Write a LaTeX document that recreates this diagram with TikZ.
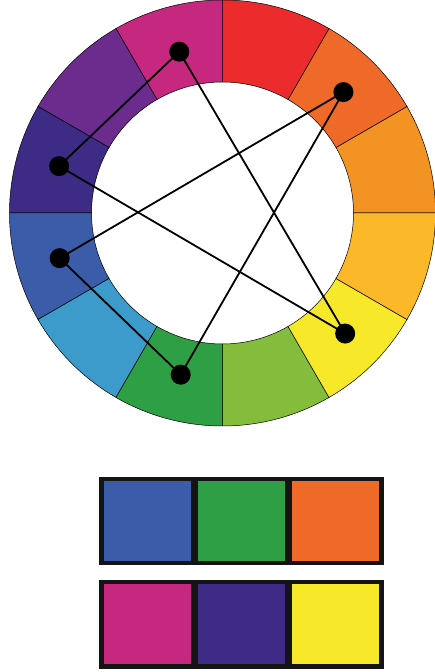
\documentclass[tikz,border=0pt]{standalone}
\usepackage{xcolor}
\usepackage{tikz}
\usetikzlibrary{positioning,fit,backgrounds}
\definecolor{wRed}{HTML}{EC2B2C}
\definecolor{wRedOrange}{HTML}{EF6A29}
\definecolor{wOrange}{HTML}{F39323}
\definecolor{wYellowOrange}{HTML}{FBB828}
\definecolor{wYellow}{HTML}{F7E829}
\definecolor{wYellowGreen}{HTML}{84BD3C}
\definecolor{wGreen}{HTML}{2E9F45}
\definecolor{wBlueGreen}{HTML}{3C9BCA}
\definecolor{wBlue}{HTML}{3B5CA8}
\definecolor{wIndigo}{HTML}{3D2B86}
\definecolor{wPurple}{HTML}{6B2C8E}
\definecolor{wMagenta}{HTML}{C5287E}
\tikzset{
  sector/.style={fill=#1, draw=black, line width=0.5pt},
  hue/.style={circle, fill=black, draw=none, inner sep=0pt, minimum size=20pt},
  link/.style={draw=black, line width=1.8pt},
  swatch/.style={
    rectangle, fill=#1, draw=none, inner sep=0pt,
    minimum width=87pt, minimum height=80pt,
  },
  frame/.style={rectangle, fill=black!92, draw=none, inner sep=4pt},
}
\begin{document}
\begin{tikzpicture}[x=1pt, y=1pt]
\useasboundingbox (0,0) rectangle (435,672);

% ===== Colour wheel =====
\begin{scope}[shift={(222.5,459)}]
  \foreach \a/\c in {0/wOrange, 30/wRedOrange, 60/wRed, 90/wMagenta,
                     120/wPurple, 150/wIndigo, 180/wBlue, 210/wBlueGreen,
                     240/wGreen, 270/wYellowGreen, 300/wYellow, 330/wYellowOrange}
    \path[sector=\c] (\a:213) arc[start angle=\a, delta angle=30, radius=213]
      -- (\a+30:131) arc[start angle=\a+30, delta angle=-30, radius=131] -- cycle;

  \node[hue] (hMagenta)   at (105:167) {};
  \node[hue] (hRedOrange) at (45:171) {};
  \node[hue] (hIndigo)    at (164:170) {};
  \node[hue] (hBlue)      at (195.5:169) {};
  \node[hue] (hGreen)     at (255.5:167) {};
  \node[hue] (hYellow)    at (315.5:172) {};
\end{scope}

\draw[link] (hMagenta.center) -- (hIndigo.center);
\draw[link] (hMagenta.center) -- (hYellow.center);
\draw[link] (hIndigo.center) -- (hYellow.center);
\draw[link] (hRedOrange.center) -- (hBlue.center);
\draw[link] (hRedOrange.center) -- (hGreen.center);
\draw[link] (hBlue.center) -- (hGreen.center);

% ===== Swatches =====
\node[swatch=wBlue] (sBlue) at (147,151) {};
\node[swatch=wGreen, right=7pt of sBlue] (sGreen) {};
\node[swatch=wRedOrange, right=7pt of sGreen] (sOrange) {};

\node[swatch=wMagenta] (sMagenta) at (147,47.5) {};
\node[swatch=wIndigo, right=7pt of sMagenta] (sIndigo) {};
\node[swatch=wYellow, right=7pt of sIndigo] (sYellow) {};

\begin{scope}[on background layer]
  \node[frame, fit=(sBlue)(sOrange)] (triadA) {};
  \node[frame, fit=(sMagenta)(sYellow)] (triadB) {};
\end{scope}

\end{tikzpicture}
\end{document}
